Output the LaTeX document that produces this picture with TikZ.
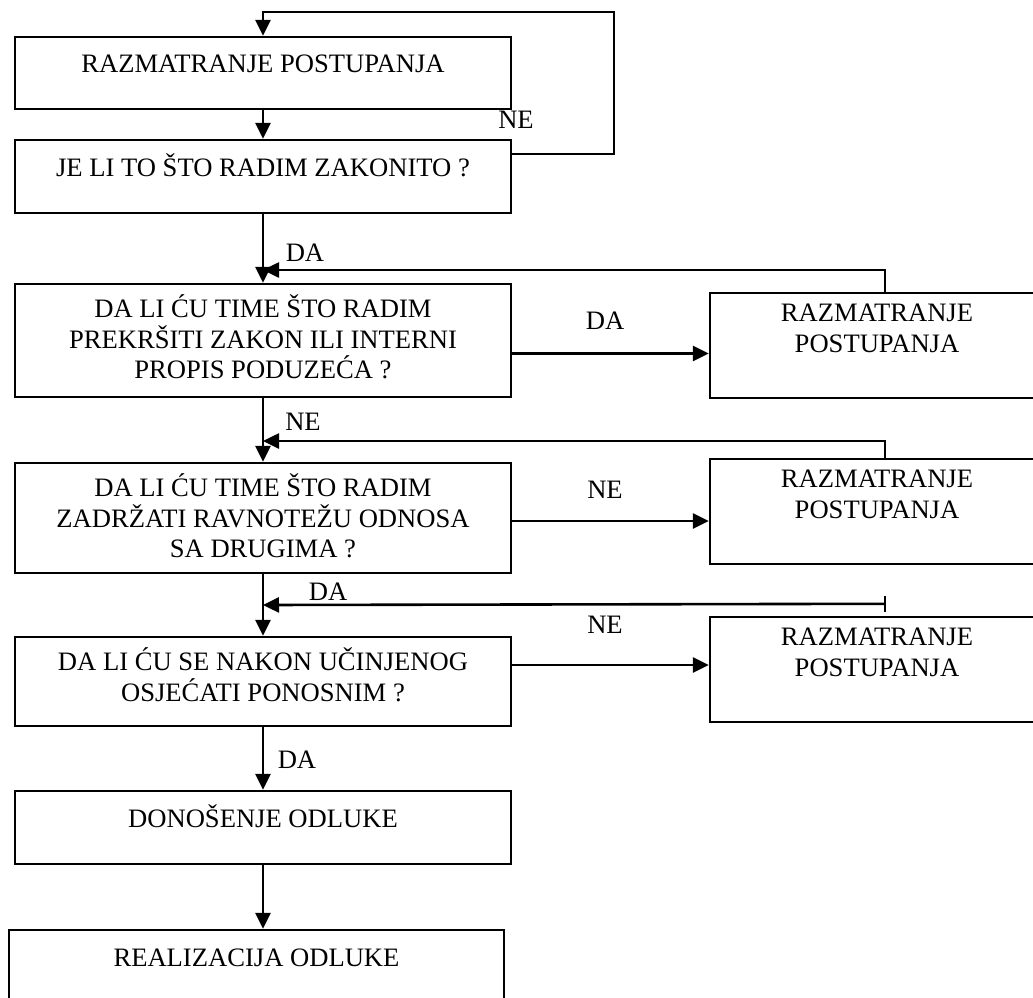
\documentclass[tikz,border=0pt]{standalone}
\usepackage{fontspec}
\setmainfont{Liberation Serif}
\usetikzlibrary{arrows.meta,positioning}
\newcommand{\tstrut}{\rule{0pt}{24pt}}

\begin{document}
\begin{tikzpicture}[x=1pt,y=-1pt,
    box/.style={draw,line width=2.4pt,inner sep=0pt,minimum width=496pt},
    txt/.style={font=\fontsize{26.6}{30.5}\selectfont,align=center,inner sep=0pt,execute at begin node=\tstrut},
    lbl/.style={font=\fontsize{26.6}{30.5}\selectfont,inner sep=0pt},
    ln/.style={line width=2.6pt},
    arr/.style={ln,-{Triangle[length=16pt,width=15pt]}}]
  \useasboundingbox (0,0) rectangle (1033,998);
  \clip (0,0) rectangle (1033,998);
  % lijevi stupac
  \node[box,minimum height=72pt] (b1) at (263,73) {};
  \node[box,minimum height=73pt] (b2) at (263,176.5) {};
  \node[box,minimum height=113pt] (b3) at (263,340.5) {};
  \node[box,minimum height=110pt] (b4) at (263,518) {};
  \node[box,minimum height=89pt] (b5) at (263,681.5) {};
  \node[box,minimum height=73pt] (b6) at (263,827.5) {};
  \node[box,minimum width=495pt,minimum height=100pt] (b7) at (256.5,980) {};
  \node[txt,below=13pt of b1.north] (t1) {RAZMATRANJE POSTUPANJA};
  \node[txt,below=13pt of b2.north] (t2) {JE LI TO ŠTO RADIM ZAKONITO ?};
  \node[txt,below=12pt of b3.north] (t3) {DA LI ĆU TIME ŠTO RADIM\\PREKRŠITI ZAKON ILI INTERNI\\PROPIS PODUZEĆA ?};
  \node[txt,below=12pt of b4.north] (t4) {DA LI ĆU TIME ŠTO RADIM\\ZADRŽATI RAVNOTEŽU ODNOSA\\SA DRUGIMA ?};
  \node[txt,below=12pt of b5.north] (t5) {DA LI ĆU SE NAKON UČINJENOG\\OSJEĆATI PONOSNIM ?};
  \node[txt,below=13pt of b6.north] (t6) {DONOŠENJE ODLUKE};
  \node[txt,below=13pt of b7.north] (t7) {REALIZACIJA ODLUKE};
  % desni stupac
  \foreach \i/\y in {1/345.5,2/511.5,3/669.5} {
    \node[box,minimum width=350pt,minimum height=105pt] (r\i) at (885,\y) {};
    \node[txt,below=12pt of r\i.north,xshift=-8pt] (rt\i) {RAZMATRANJE\\POSTUPANJA};
  }
  % spojnice
  \coordinate (lp) at (614,12);
  \coordinate (j1) at (263,270);
  \coordinate (j2) at (263,441);
  \coordinate (j3) at (263,605);
  \draw[arr] ([yshift=22.5pt]b2.east) -| (lp) -| (b1.north);
  \draw[arr] (b1) -- (b2);
  \draw[arr] (b2) -- (b3);
  \draw[arr] (b3) -- (b4);
  \draw[arr] (b4) -- (b5);
  \draw[arr] (b5) -- (b6);
  \draw[arr] (b6.south) -- (b6.south |- b7.north);
  \draw[arr] ([yshift=-13pt]b3.east) -- ([yshift=-13pt]b3.east -| r1.west);
  \draw[arr] ([yshift=-3pt]b4.east) -- ([yshift=-3pt]b4.east -| r2.west);
  \draw[arr] ([yshift=16.5pt]b5.east) -- ([yshift=16.5pt]b5.east -| r3.west);
  \draw[arr] (r1.north) |- (j1);
  \draw[arr] (r2.north) |- (j2);
  \draw[ln] ([yshift=4pt]r3.north) -- ([yshift=20pt]r3.north);
  \draw[arr] ([yshift=12pt]r3.north) -- (j3);
  % oznake
  \node[lbl] (ne0) at (516,120) {NE};
  \node[lbl] (da1) at (305,253) {DA};
  \node[lbl] (da2) at (605,321) {DA};
  \node[lbl] (ne1) at (303,422) {NE};
  \node[lbl] (ne2) at (605,490) {NE};
  \node[lbl] (da3) at (328,592) {DA};
  \node[lbl] (ne3) at (605,625) {NE};
  \node[lbl] (da4) at (297,760) {DA};
\end{tikzpicture}
\end{document}
